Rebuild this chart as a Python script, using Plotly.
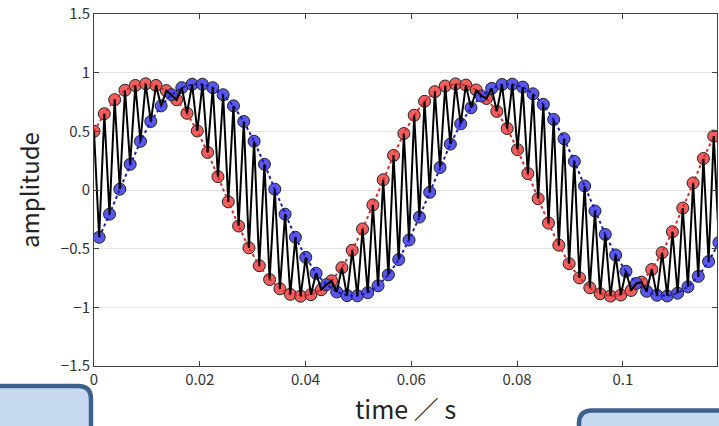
import plotly.graph_objects as go

# Sampling rate of the interleaved sequence (red = even samples, blue = odd samples)
FS = 1024

red_vals = [0.50, 0.65, 0.77, 0.85, 0.891, 0.905, 0.891, 0.847, 0.769, 0.654,
            0.503, 0.320, 0.114, -0.101, -0.307, -0.493, -0.645, -0.763, -0.842, -0.889,
            -0.905, -0.892, -0.850, -0.774, -0.662, -0.514, -0.332, -0.127, 0.087, 0.295,
            0.481, 0.637, 0.756, 0.838, 0.886, 0.904, 0.894, 0.853, 0.780, 0.670,
            0.524, 0.344, 0.140, -0.074, -0.282, -0.470, -0.628, -0.749, -0.833, -0.884,
            -0.904, -0.895, -0.856, -0.785, -0.678, -0.534, -0.356, -0.154, 0.060, 0.269,
            0.459]

blue_vals = [-0.403, -0.206, 0.007, 0.219, 0.415, 0.584, 0.717, 0.812, 0.872, 0.901,
             0.901, 0.872, 0.812, 0.717, 0.584, 0.415, 0.219, 0.007, -0.206, -0.403,
             -0.574, -0.709, -0.807, -0.869, -0.900, -0.902, -0.875, -0.816, -0.723, -0.593,
             -0.426, -0.231, -0.020, 0.192, 0.391, 0.564, 0.701, 0.801, 0.866, 0.899,
             0.902, 0.877, 0.820, 0.730, 0.601, 0.437, 0.244, 0.034, -0.179, -0.379,
             -0.554, -0.693, -0.796, -0.863, -0.897, -0.903, -0.879, -0.825, -0.736, -0.610,
             -0.448]

x_ticks = [0, 0.02, 0.04, 0.06, 0.08, 0.1]
x_tick_text = ["0", "0.02", "0.04", "0.06", "0.08", "0.1"]
y_ticks = [-1.5, -1, -0.5, 0, 0.5, 1, 1.5]
y_tick_text = ["\u22121.5", "\u22121", "\u22120.5", "0", "0.5", "1", "1.5"]

red_t = [2 * k / FS for k in range(len(red_vals))]
blue_t = [(2 * k + 1) / FS for k in range(len(blue_vals))]

# full sequence: alternate red / blue samples
all_t, all_v = [], []
for k in range(max(len(red_vals), len(blue_vals))):
    if k < len(red_vals):
        all_t.append(red_t[k]); all_v.append(red_vals[k])
    if k < len(blue_vals):
        all_t.append(blue_t[k]); all_v.append(blue_vals[k])

W, H = 719, 426
ML, MR, MT, MB = 94, 2, 14, 60
PW, PH = W - ML - MR, H - MT - MB


def px(x):
    return (x - ML) / PW


def py(y):
    return (H - MB - y) / PH


RED = "rgba(240,80,80,0.92)"
BLUE = "rgba(74,74,236,0.92)"
font_main = "Noto Sans CJK JP, Noto Sans, Arial, sans-serif"

fig = go.Figure()
fig.add_trace(go.Scatter(x=red_t, y=red_vals, mode="markers",
                         marker=dict(size=12, color=RED, line=dict(color="#222", width=1)),
                         showlegend=False))
fig.add_trace(go.Scatter(x=blue_t, y=blue_vals, mode="markers",
                         marker=dict(size=12, color=BLUE, line=dict(color="#222", width=1)),
                         showlegend=False))
fig.add_trace(go.Scatter(x=red_t, y=red_vals, mode="lines",
                         line=dict(color="#d42a2a", width=2, dash="dot"), showlegend=False))
fig.add_trace(go.Scatter(x=blue_t, y=blue_vals, mode="lines",
                         line=dict(color="#1a1ab0", width=2, dash="dot"), showlegend=False))
fig.add_trace(go.Scatter(x=all_t, y=all_v, mode="lines",
                         line=dict(color="black", width=2), showlegend=False))

# rounded boxes at the bottom edge
r = 13
lx1, ly0, yb = 91, 386, 460
left_path = (f"M {px(-20)},{py(ly0)} L {px(lx1 - r)},{py(ly0)} "
             f"Q {px(lx1)},{py(ly0)} {px(lx1)},{py(ly0 + r)} "
             f"L {px(lx1)},{py(yb)} L {px(-20)},{py(yb)} Z")
rx0, ry0 = 579, 410.5
right_path = (f"M {px(rx0)},{py(yb)} L {px(rx0)},{py(ry0 + r)} "
              f"Q {px(rx0)},{py(ry0)} {px(rx0 + r)},{py(ry0)} "
              f"L {px(760)},{py(ry0)} L {px(760)},{py(yb)} Z")
for p in (left_path, right_path):
    fig.add_shape(type="path", path=p, xref="paper", yref="paper",
                  fillcolor="#c6d9f0", line=dict(color="#3c5f8e", width=4.5), layer="above")

axis_common = dict(showline=True, linecolor="#404040", linewidth=1, mirror="ticks",
                   ticks="inside", ticklen=5, tickcolor="#404040", zeroline=False,
                   tickfont=dict(size=15, color="#333", family=font_main))

fig.update_xaxes(range=[0, 0.1178], tickvals=x_ticks, ticktext=x_tick_text,
                 showgrid=False,
                 title=dict(text="time \uff0f s", font=dict(size=25, color="#222", family=font_main),
                            standoff=13),
                 **axis_common)
fig.update_yaxes(range=[-1.5, 1.5], tickvals=y_ticks, ticktext=y_tick_text,
                 showgrid=True, gridcolor="#e3e3e3", gridwidth=1,
                 title=dict(text="amplitude", font=dict(size=24, color="#222", family=font_main),
                            standoff=14),
                 **axis_common)

fig.update_layout(width=W, height=H, margin=dict(l=ML, r=MR, t=MT, b=MB),
                  plot_bgcolor="white", paper_bgcolor="white")

fig.write_html("out.html")
